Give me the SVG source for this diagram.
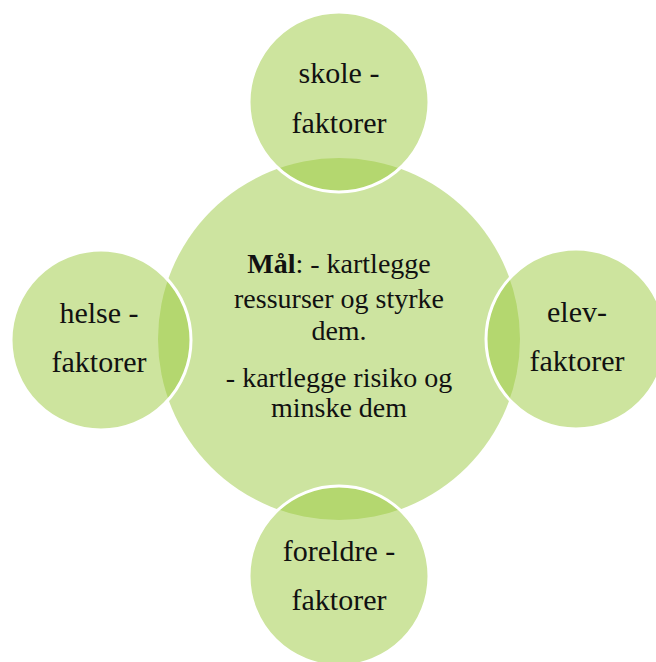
<svg xmlns="http://www.w3.org/2000/svg" width="656" height="662" viewBox="0 0 656 662">
<style>
.bg{fill:#ffffff}
.main{fill:#cde4a0}
.sat{fill:#9bca3e;fill-opacity:0.5;stroke:#ffffff;stroke-width:3}
.t{fill:#111111;text-anchor:middle}
.o{font-size:30px}
.c{font-size:28px}
</style>
<rect class="bg" x="0" y="0" width="656" height="662"/>
<g id="center" font-family="'Liberation Serif', 'DejaVu Serif', serif">
<circle class="main" cx="339" cy="339" r="181"/>
<text class="t c" x="339" y="273"><tspan font-weight="bold">Mål</tspan>: - kartlegge</text>
<text class="t c" x="339" y="308">ressurser og styrke</text>
<text class="t c" x="339" y="340">dem.</text>
<text class="t c" x="339" y="387">- kartlegge risiko og</text>
<text class="t c" x="339" y="417">minske dem</text>
</g>
<g id="connectors"></g>
<g id="skole" font-family="'Liberation Serif', 'DejaVu Serif', serif">
<circle class="sat" cx="339" cy="102" r="90"/>
<text class="t o" x="339" y="83">skole -</text>
<text class="t o" x="339" y="133">faktorer</text>
</g>
<g id="elev" font-family="'Liberation Serif', 'DejaVu Serif', serif">
<circle class="sat" cx="576" cy="339" r="90"/>
<text class="t o" x="577" y="322">elev-</text>
<text class="t o" x="577" y="371">faktorer</text>
</g>
<g id="foreldre" font-family="'Liberation Serif', 'DejaVu Serif', serif">
<circle class="sat" cx="339" cy="576" r="90"/>
<text class="t o" x="339" y="561">foreldre -</text>
<text class="t o" x="339" y="610">faktorer</text>
</g>
<g id="helse" font-family="'Liberation Serif', 'DejaVu Serif', serif">
<circle class="sat" cx="101" cy="340" r="90"/>
<text class="t o" x="99" y="323">helse -</text>
<text class="t o" x="99" y="372">faktorer</text>
</g>
</svg>
